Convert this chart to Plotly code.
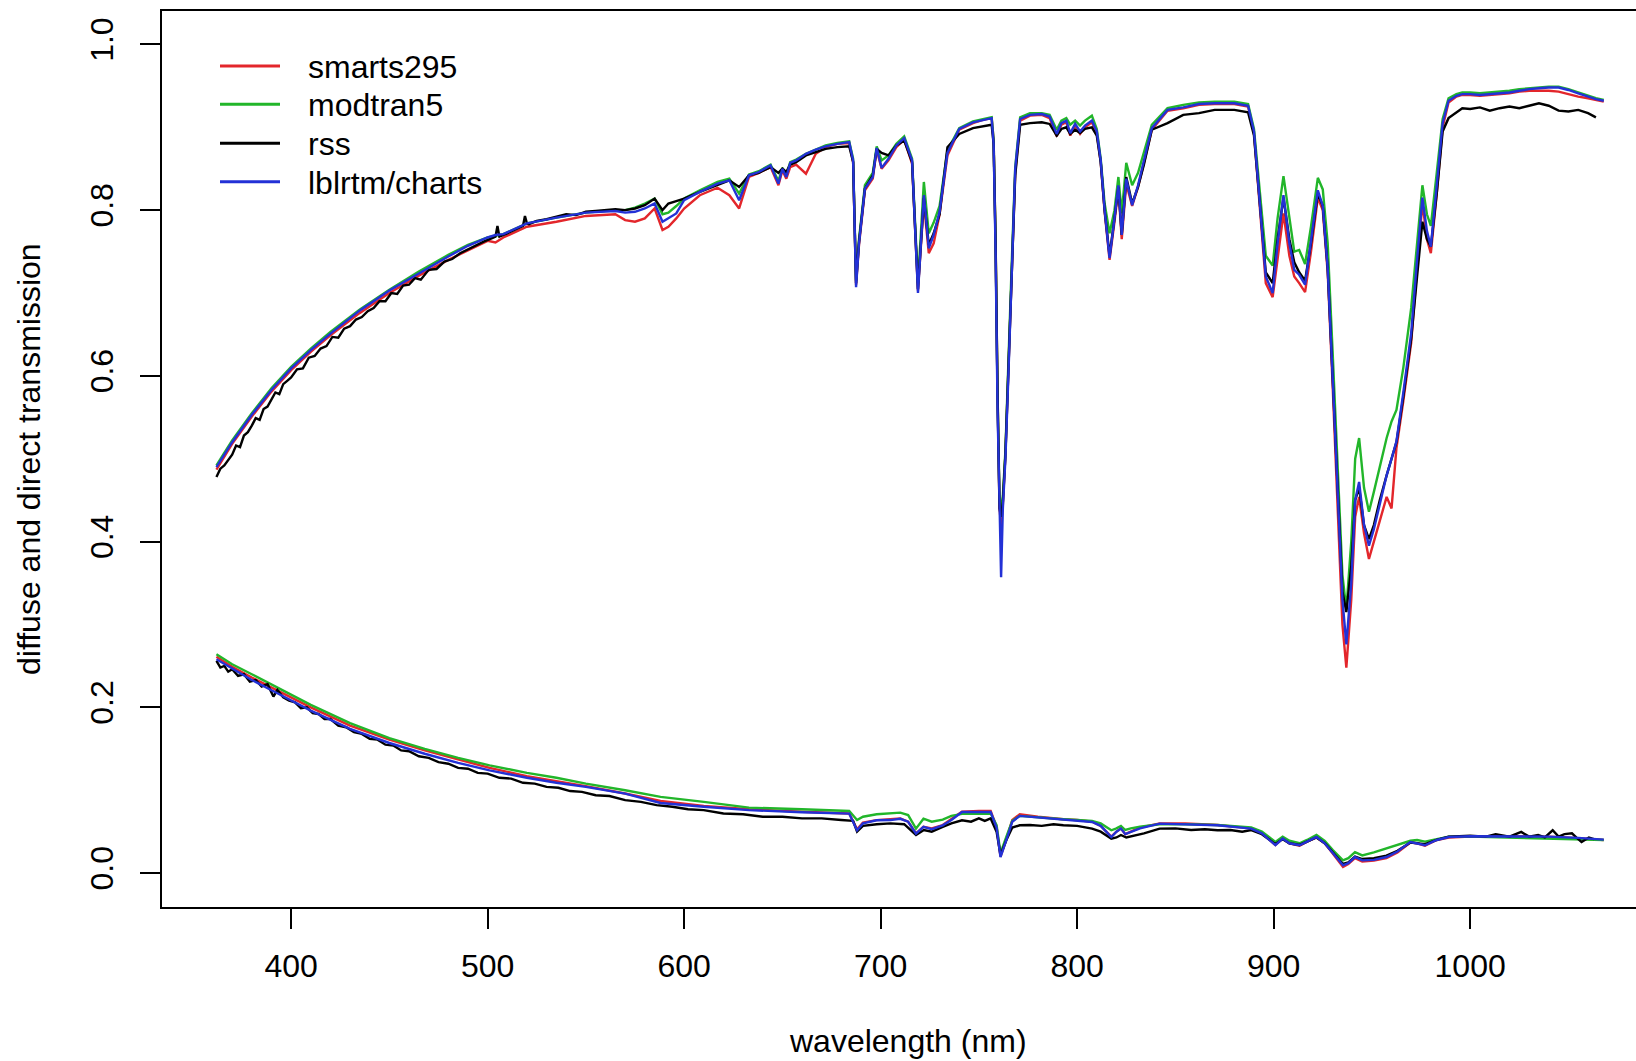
import plotly.graph_objects as go

# ---------------- data ----------------
# wavelength grid for model curves (direct + diffuse transmission)
wl_up = [
    362, 370, 380, 390, 400, 410, 420, 435, 450, 465,
    480, 490, 500, 504, 508, 520, 535, 550, 565, 570,
    575, 580, 585, 589, 592, 596, 600, 608, 617, 623,
    628, 633, 638, 644, 648, 650, 652, 654, 657, 662,
    667, 672, 678, 684, 686, 687.5, 689, 692, 696, 698,
    700.5, 704, 708, 712, 716, 719, 722, 724.5, 727, 730,
    734, 740, 747, 752, 756.5, 757.5, 758.5, 759.5, 760.5, 761.3,
    762.2, 763.5, 765, 766.7, 768.5, 771, 776, 782, 786, 789.6,
    792, 794.5, 796.5, 799, 801.5, 804, 807.5, 810, 812, 814,
    816.5, 819, 821, 822.7, 825, 828, 831, 834, 838, 846,
    854, 862, 870, 880, 887, 890, 893, 896, 899.5, 902,
    905, 908, 910.5, 913, 916, 919, 922.5, 925, 927.5, 930,
    932.5, 935, 937, 939.5, 941.5, 943.5, 946, 948.5, 951, 954,
    957.5, 960, 962.5, 966, 970, 973, 975.7, 978, 980, 983,
    986, 989, 993, 996, 1000, 1005, 1010, 1015, 1020, 1025,
    1030, 1035, 1040, 1045, 1050, 1055, 1060, 1064, 1068,
]

lblrtm_up = [
    0.490, 0.520, 0.553, 0.583, 0.609, 0.631, 0.651, 0.679, 0.703, 0.724,
    0.744, 0.757, 0.767, 0.770, 0.771, 0.784, 0.791, 0.797, 0.799, 0.797,
    0.798, 0.802, 0.808, 0.786, 0.790, 0.796, 0.812, 0.822, 0.832, 0.836,
    0.812, 0.842, 0.846, 0.854, 0.832, 0.850, 0.840, 0.857, 0.860, 0.868,
    0.873, 0.877, 0.880, 0.882, 0.860, 0.707, 0.760, 0.826, 0.840, 0.875,
    0.851, 0.862, 0.878, 0.887, 0.860, 0.700, 0.818, 0.754, 0.770, 0.798,
    0.869, 0.898, 0.906, 0.909, 0.911, 0.880, 0.750, 0.560, 0.430, 0.357,
    0.440, 0.500, 0.600, 0.730, 0.850, 0.910, 0.915, 0.916, 0.913, 0.892,
    0.905, 0.908, 0.893, 0.904, 0.895, 0.902, 0.908, 0.895, 0.860, 0.800,
    0.742, 0.790, 0.830, 0.770, 0.838, 0.806, 0.830, 0.860, 0.899, 0.921,
    0.924, 0.928, 0.929, 0.929, 0.926, 0.895, 0.810, 0.720, 0.700, 0.760,
    0.818, 0.760, 0.728, 0.722, 0.710, 0.760, 0.824, 0.805, 0.730, 0.600,
    0.470, 0.330, 0.276, 0.350, 0.450, 0.472, 0.420, 0.395, 0.415, 0.445,
    0.480, 0.500, 0.521, 0.580, 0.652, 0.740, 0.815, 0.775, 0.756, 0.830,
    0.905, 0.932, 0.938, 0.940, 0.940, 0.939, 0.940, 0.941, 0.942, 0.944,
    0.946, 0.947, 0.948, 0.948, 0.945, 0.941, 0.937, 0.934, 0.932,
]

smarts_up = [
    0.487, 0.518, 0.551, 0.581, 0.607, 0.629, 0.649, 0.676, 0.700, 0.721,
    0.740, 0.752, 0.763, 0.761, 0.767, 0.780, 0.786, 0.793, 0.795, 0.788,
    0.786, 0.790, 0.802, 0.776, 0.780, 0.790, 0.802, 0.818, 0.827, 0.818,
    0.802, 0.840, 0.845, 0.852, 0.830, 0.848, 0.838, 0.852, 0.855, 0.844,
    0.868, 0.876, 0.880, 0.881, 0.858, 0.710, 0.758, 0.824, 0.838, 0.873,
    0.850, 0.860, 0.876, 0.885, 0.856, 0.703, 0.810, 0.748, 0.760, 0.795,
    0.866, 0.897, 0.905, 0.909, 0.911, 0.885, 0.765, 0.580, 0.440, 0.420,
    0.445, 0.505, 0.600, 0.728, 0.845, 0.908, 0.914, 0.915, 0.911, 0.889,
    0.903, 0.906, 0.890, 0.902, 0.892, 0.900, 0.906, 0.893, 0.858, 0.798,
    0.740, 0.786, 0.826, 0.765, 0.832, 0.805, 0.828, 0.857, 0.897, 0.920,
    0.923, 0.927, 0.928, 0.928, 0.925, 0.893, 0.805, 0.712, 0.695, 0.740,
    0.796, 0.745, 0.720, 0.712, 0.701, 0.750, 0.815, 0.800, 0.725, 0.590,
    0.455, 0.300, 0.248, 0.330, 0.430, 0.454, 0.410, 0.379, 0.400, 0.424,
    0.454, 0.440, 0.513, 0.570, 0.640, 0.730, 0.809, 0.765, 0.748, 0.820,
    0.900, 0.930, 0.937, 0.939, 0.939, 0.938, 0.939, 0.940, 0.941, 0.943,
    0.944, 0.944, 0.944, 0.943, 0.940, 0.937, 0.935, 0.933, 0.931,
]

modtran_up = [
    0.492, 0.522, 0.555, 0.585, 0.611, 0.633, 0.653, 0.680, 0.704, 0.726,
    0.746, 0.758, 0.767, 0.769, 0.771, 0.784, 0.791, 0.797, 0.800, 0.800,
    0.803, 0.808, 0.814, 0.795, 0.797, 0.805, 0.814, 0.824, 0.834, 0.838,
    0.820, 0.843, 0.847, 0.855, 0.835, 0.851, 0.843, 0.858, 0.861, 0.868,
    0.873, 0.878, 0.881, 0.883, 0.862, 0.715, 0.765, 0.830, 0.845, 0.877,
    0.860, 0.866, 0.880, 0.889, 0.862, 0.712, 0.834, 0.772, 0.785, 0.805,
    0.872, 0.899, 0.907, 0.910, 0.912, 0.885, 0.765, 0.580, 0.450, 0.440,
    0.455, 0.510, 0.605, 0.735, 0.852, 0.912, 0.917, 0.917, 0.915, 0.897,
    0.908, 0.911, 0.903, 0.908, 0.902, 0.908, 0.914, 0.898, 0.862, 0.808,
    0.772, 0.800, 0.840, 0.796, 0.857, 0.830, 0.845, 0.870, 0.903, 0.923,
    0.927, 0.930, 0.931, 0.931, 0.928, 0.898, 0.820, 0.745, 0.733, 0.790,
    0.841, 0.790, 0.750, 0.752, 0.735, 0.780, 0.839, 0.825, 0.760, 0.630,
    0.500, 0.360, 0.318, 0.400, 0.500, 0.525, 0.465, 0.436, 0.460, 0.491,
    0.525, 0.545, 0.559, 0.610, 0.682, 0.760, 0.830, 0.795, 0.781, 0.845,
    0.910, 0.935, 0.940, 0.942, 0.942, 0.941, 0.942, 0.943, 0.944, 0.946,
    0.947, 0.948, 0.949, 0.949, 0.946, 0.942, 0.938, 0.935, 0.933,
]

# rss (measured) direct + diffuse, own wavelength grid
wl_rss_up = [
    362, 364, 366, 368, 370, 372, 374, 376, 378, 380,
    382, 384, 386, 388, 390, 392, 394, 396, 398, 400,
    403, 406, 409, 412, 415, 418, 421, 424, 427, 430,
    433, 436, 439, 442, 445, 448, 451, 454, 457, 460,
    463, 466, 470, 474, 478, 482, 486, 490, 494, 498,
    502, 504, 505, 506, 510, 514, 518, 519, 520, 521,
    525, 530, 535, 540, 545, 550, 555, 560, 565, 570,
    575, 580, 585, 589, 592, 596, 600, 608, 617, 623,
    628, 633, 638, 644, 648, 650, 652, 654, 657, 662,
    667, 672, 678, 684, 686, 687.5, 689, 692, 696, 698,
    700.5, 704, 708, 712, 716, 719, 722, 724.5, 727, 730,
    734, 740, 747, 752, 756.5, 757.5, 758.5, 759.5, 760.5, 761.3,
    762.2, 763.5, 765, 766.7, 768.5, 771, 776, 782, 786, 789.6,
    792, 794.5, 796.5, 799, 801.5, 804, 807.5, 810, 812, 814,
    816.5, 819, 821, 822.7, 825, 828, 831, 834, 838, 846,
    854, 862, 870, 880, 887, 890, 893, 896, 899.5, 902,
    905, 908, 910.5, 913, 916, 919, 922.5, 925, 927.5, 930,
    932.5, 935, 937, 939.5, 941.5, 943.5, 946, 948.5, 951, 954,
    957.5, 960, 962.5, 966, 970, 973, 975.7, 978, 980, 983,
    986, 989, 993, 996, 1000, 1005, 1010, 1015, 1020, 1025,
    1030, 1035, 1040, 1045, 1050, 1055, 1060, 1064,
]

rss_up = [
    0.478, 0.488, 0.492, 0.498, 0.505, 0.516, 0.514, 0.528, 0.532, 0.540,
    0.549, 0.547, 0.560, 0.563, 0.571, 0.580, 0.578, 0.590, 0.594, 0.598,
    0.608, 0.609, 0.622, 0.624, 0.633, 0.636, 0.647, 0.646, 0.657, 0.660,
    0.668, 0.671, 0.678, 0.682, 0.690, 0.690, 0.700, 0.699, 0.709, 0.710,
    0.718, 0.716, 0.728, 0.729, 0.738, 0.741, 0.748, 0.753, 0.757, 0.762,
    0.766, 0.768, 0.781, 0.768, 0.772, 0.777, 0.781, 0.793, 0.784, 0.783,
    0.787, 0.789, 0.792, 0.795, 0.794, 0.798, 0.799, 0.800, 0.801, 0.800,
    0.802, 0.806, 0.814, 0.800, 0.808, 0.811, 0.814, 0.822, 0.830, 0.836,
    0.828, 0.842, 0.845, 0.852, 0.845, 0.850, 0.846, 0.855, 0.858, 0.866,
    0.870, 0.874, 0.876, 0.877, 0.858, 0.712, 0.762, 0.826, 0.842, 0.874,
    0.869, 0.866, 0.878, 0.884, 0.858, 0.705, 0.815, 0.758, 0.772, 0.795,
    0.876, 0.892, 0.899, 0.901, 0.903, 0.880, 0.760, 0.575, 0.440, 0.430,
    0.448, 0.505, 0.600, 0.725, 0.842, 0.903, 0.905, 0.906, 0.904, 0.890,
    0.898, 0.900, 0.892, 0.897, 0.893, 0.898, 0.900, 0.890, 0.858, 0.800,
    0.745, 0.790, 0.828, 0.770, 0.840, 0.808, 0.828, 0.855, 0.897, 0.905,
    0.915, 0.917, 0.921, 0.921, 0.918, 0.890, 0.810, 0.725, 0.712, 0.765,
    0.815, 0.765, 0.737, 0.725, 0.715, 0.760, 0.820, 0.805, 0.730, 0.600,
    0.470, 0.340, 0.315, 0.370, 0.450, 0.465, 0.420, 0.403, 0.420, 0.450,
    0.480, 0.500, 0.520, 0.575, 0.645, 0.720, 0.786, 0.765, 0.756, 0.820,
    0.895, 0.911, 0.918, 0.923, 0.922, 0.924, 0.920, 0.923, 0.925, 0.923,
    0.926, 0.929, 0.926, 0.920, 0.919, 0.921, 0.917, 0.912,
]

# wavelength grid for model curves (diffuse transmission)
wl_dn = [
    362, 370, 380, 393, 410, 430, 450, 468, 485, 501,
    520, 535, 550, 570, 588, 610, 633, 660, 684, 688,
    691, 698, 705, 710, 714, 718, 721.8, 726, 731.6, 736,
    741.4, 750, 756, 759, 761, 764, 767, 770.8, 780, 793,
    800, 807.6, 812, 817.4, 820, 822.3, 824.5, 827.3, 832, 842,
    855, 871.4, 888.6, 894, 900.9, 904.6, 908, 913.2, 917, 921.8,
    926, 930, 935.3, 938, 941.4, 945.1, 951, 957.4, 963, 969.6,
    973, 977, 983, 989.2, 1000, 1020, 1040, 1055, 1068,
]

lblrtm_dn = [
    0.258, 0.247, 0.233, 0.217, 0.196, 0.174, 0.157, 0.144, 0.133, 0.124,
    0.115, 0.109, 0.104, 0.096, 0.0846, 0.080, 0.076, 0.0735, 0.0718, 0.0517,
    0.060, 0.0637, 0.064, 0.0655, 0.062, 0.0477, 0.0557, 0.053, 0.0577, 0.064,
    0.0738, 0.0738, 0.0738, 0.055, 0.0194, 0.040, 0.062, 0.069, 0.067, 0.0645,
    0.063, 0.0617, 0.057, 0.0436, 0.050, 0.0537, 0.047, 0.0497, 0.054, 0.0597,
    0.059, 0.0577, 0.0537, 0.048, 0.0336, 0.0416, 0.036, 0.0336, 0.038, 0.0436,
    0.036, 0.025, 0.0094, 0.012, 0.0194, 0.0154, 0.016, 0.0194, 0.026, 0.0375,
    0.036, 0.0336, 0.040, 0.0436, 0.0444, 0.0444, 0.0440, 0.0425, 0.0404,
]

modtran_dn = [
    0.264, 0.252, 0.240, 0.224, 0.203, 0.181, 0.163, 0.150, 0.139, 0.130,
    0.121, 0.115, 0.108, 0.100, 0.092, 0.086, 0.079, 0.077, 0.075, 0.064,
    0.068, 0.071, 0.072, 0.073, 0.070, 0.0537, 0.0657, 0.062, 0.0645, 0.069,
    0.0715, 0.072, 0.072, 0.058, 0.024, 0.044, 0.063, 0.069, 0.067, 0.065,
    0.064, 0.063, 0.060, 0.0517, 0.054, 0.057, 0.052, 0.054, 0.056, 0.059,
    0.059, 0.058, 0.055, 0.050, 0.0376, 0.044, 0.039, 0.036, 0.040, 0.046,
    0.039, 0.028, 0.0154, 0.018, 0.0254, 0.0214, 0.025, 0.0295, 0.034, 0.039,
    0.040, 0.038, 0.041, 0.044, 0.044, 0.043, 0.042, 0.041, 0.040,
]

smarts_dn = [
    0.261, 0.249, 0.236, 0.220, 0.200, 0.178, 0.161, 0.148, 0.137, 0.127,
    0.117, 0.111, 0.105, 0.096, 0.087, 0.081, 0.077, 0.074, 0.072, 0.053,
    0.061, 0.064, 0.065, 0.066, 0.062, 0.048, 0.056, 0.054, 0.058, 0.065,
    0.074, 0.075, 0.075, 0.056, 0.020, 0.041, 0.064, 0.071, 0.068, 0.065,
    0.064, 0.062, 0.057, 0.044, 0.050, 0.054, 0.047, 0.050, 0.055, 0.060,
    0.060, 0.058, 0.054, 0.048, 0.034, 0.042, 0.036, 0.033, 0.038, 0.043,
    0.036, 0.024, 0.0074, 0.011, 0.018, 0.014, 0.015, 0.018, 0.025, 0.037,
    0.036, 0.033, 0.040, 0.043, 0.044, 0.0445, 0.044, 0.042, 0.040,
]

# rss (measured) diffuse, own wavelength grid
wl_rss_dn = [
    362, 364, 366, 368, 370, 373, 376, 379, 382, 385,
    388, 391, 393, 396, 399, 402, 405, 408, 411, 414,
    417, 420, 424, 428, 432, 436, 440, 444, 448, 452,
    456, 460, 465, 470, 475, 480, 485, 490, 495, 500,
    506, 512, 518, 524, 530, 536, 542, 548, 555, 562,
    570, 578, 586, 594, 602, 610, 620, 630, 640, 650,
    660, 670, 680, 686, 688, 691, 698, 705, 712, 718,
    722, 726, 731.6, 736, 741.4, 746, 750, 753, 756, 759,
    761, 764, 767, 770.8, 776, 782, 788, 793, 800, 807.6,
    812, 817.4, 820, 822.3, 825, 829, 834, 842, 850, 858,
    865, 871.4, 878, 884, 888.6, 894, 900.9, 904.6, 908, 913.2,
    917, 921.8, 926, 930, 935.3, 938, 941.4, 945.1, 951, 957.4,
    963, 969.6, 973, 977, 983, 989, 1000, 1008, 1013, 1020,
    1026, 1030, 1034.6, 1038, 1042, 1045, 1048, 1051.8, 1054, 1056.7,
    1060.4, 1063,
]

rss_dn = [
    0.256, 0.248, 0.250, 0.243, 0.246, 0.238, 0.240, 0.231, 0.233, 0.225,
    0.228, 0.213, 0.221, 0.212, 0.208, 0.206, 0.199, 0.200, 0.193, 0.192,
    0.186, 0.186, 0.178, 0.176, 0.170, 0.168, 0.162, 0.161, 0.155, 0.154,
    0.148, 0.147, 0.141, 0.139, 0.134, 0.132, 0.127, 0.126, 0.121, 0.120,
    0.115, 0.114, 0.109, 0.108, 0.104, 0.103, 0.099, 0.098, 0.094, 0.093,
    0.088, 0.086, 0.082, 0.080, 0.077, 0.076, 0.072, 0.071, 0.068, 0.068,
    0.066, 0.066, 0.064, 0.063, 0.050, 0.057, 0.059, 0.060, 0.059, 0.046,
    0.052, 0.050, 0.0557, 0.060, 0.0637, 0.062, 0.066, 0.063, 0.066, 0.050,
    0.022, 0.040, 0.055, 0.0577, 0.058, 0.057, 0.059, 0.0577, 0.057, 0.0537,
    0.050, 0.0416, 0.043, 0.046, 0.043, 0.045, 0.048, 0.0537, 0.054, 0.052,
    0.053, 0.0517, 0.052, 0.050, 0.052, 0.047, 0.035, 0.041, 0.036, 0.034,
    0.038, 0.043, 0.036, 0.025, 0.011, 0.013, 0.020, 0.017, 0.018, 0.021,
    0.027, 0.037, 0.036, 0.035, 0.040, 0.044, 0.045, 0.044, 0.047, 0.044,
    0.0497, 0.044, 0.046, 0.043, 0.0517, 0.044, 0.047, 0.048, 0.043, 0.0376,
    0.043, 0.041,
]

series_names = ["smarts295", "modtran5", "rss", "lblrtm/charts"]
x_ticks = [400, 500, 600, 700, 800, 900, 1000]
y_ticks = [0.0, 0.2, 0.4, 0.6, 0.8, 1.0]
y_tick_text = ["0.0", "0.2", "0.4", "0.6", "0.8", "1.0"]
x_title = "wavelength (nm)"
y_title = "diffuse and direct transmission"

# ---------------- styling ----------------
colors = {"smarts295": "#E3262B", "modtran5": "#22B62A", "rss": "#000000",
          "lblrtm/charts": "#2331D6"}
FONT = "Liberation Sans, Arial, Helvetica, sans-serif"
FS = 32
W, H = 1636, 1061
ML, MR, MT, MB = 162, 0, 11, 154

series = [
    ("smarts295", wl_up, smarts_up, wl_dn, smarts_dn),
    ("modtran5", wl_up, modtran_up, wl_dn, modtran_dn),
    ("rss", wl_rss_up, rss_up, wl_rss_dn, rss_dn),
    ("lblrtm/charts", wl_up, lblrtm_up, wl_dn, lblrtm_dn),
]

fig = go.Figure()
for name, xu, yu, xd, yd in series:
    for xs, ys in ((xu, yu), (xd, yd)):
        fig.add_trace(go.Scatter(
            x=xs, y=ys, mode="lines", name=name, showlegend=False,
            line=dict(color=colors[name], width=2.4), hoverinfo="skip"))

pw = W - ML - MR
ph = H - MT - MB


def px(xp):
    return (xp - ML) / pw


def py(yp):
    return (H - MB - yp) / ph


# manual legend (R style)
leg_y = [66, 104.3, 143.3, 181.7]
for name, yy in zip(series_names, leg_y):
    fig.add_shape(type="line", xref="paper", yref="paper",
                  x0=px(220), x1=px(280), y0=py(yy), y1=py(yy),
                  line=dict(color=colors[name], width=3))
    fig.add_annotation(xref="paper", yref="paper", x=px(306), y=py(yy + 1),
                       text=name, showarrow=False, xanchor="left",
                       yanchor="middle",
                       font=dict(family=FONT, size=FS, color="black"))

# axis titles
fig.add_annotation(xref="paper", yref="paper", x=px(908), y=py(1041),
                   text=x_title, showarrow=False, xanchor="center",
                   yanchor="middle", font=dict(family=FONT, size=FS, color="black"))
fig.add_annotation(xref="paper", yref="paper", x=px(29), y=py(459),
                   text=y_title, showarrow=False, textangle=-90,
                   xanchor="center", yanchor="middle",
                   font=dict(family=FONT, size=FS, color="black"))

fig.update_layout(
    width=W, height=H,
    margin=dict(l=ML, r=MR, t=MT, b=MB, pad=0),
    paper_bgcolor="white", plot_bgcolor="white",
    showlegend=False,
    font=dict(family=FONT, size=FS, color="black"),
)
fig.update_xaxes(
    range=[334.3, 1084.4], tickmode="array", tickvals=x_ticks,
    ticktext=[str(v) for v in x_ticks],
    showgrid=False, zeroline=False, showline=True, linecolor="black",
    linewidth=2, mirror=True, ticks="outside", ticklen=20, tickwidth=2,
    tickcolor="black", tickfont=dict(family=FONT, size=FS, color="black"),
    ticklabelstandoff=10,
)
fig.update_yaxes(
    range=[-0.0409, 1.0403], tickmode="array", tickvals=y_ticks,
    ticktext=y_tick_text, tickangle=-90,
    showgrid=False, zeroline=False, showline=True, linecolor="black",
    linewidth=2, mirror=False, ticks="outside", ticklen=20, tickwidth=2,
    tickcolor="black", tickfont=dict(family=FONT, size=FS, color="black"),
    ticklabelstandoff=14,
)

fig.write_html(
    "out.html",
    config={"displayModeBar": False},
    post_script="document.body.style.margin='0';document.body.style.overflow='hidden';",
)
